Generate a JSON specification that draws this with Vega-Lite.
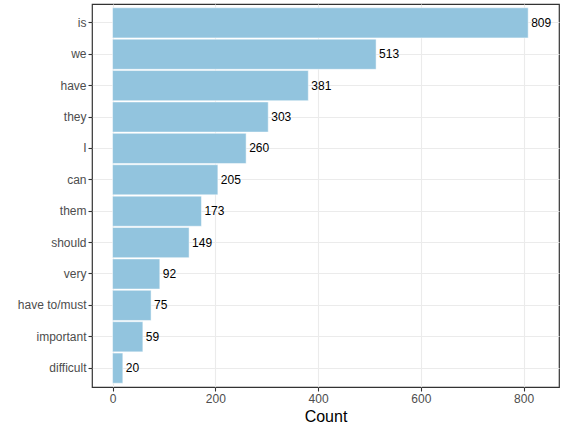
{
  "$schema": "https://vega.github.io/schema/vega-lite/v6.json",
  "width": 467, "height": 383,
  "autosize": {"type": "none"},
  "padding": {"left": 92, "top": 4, "right": 6, "bottom": 43},
  "background": "white",
  "config": {
    "font": "Liberation Sans",
    "view": {"stroke": "#333333", "strokeWidth": 1.2},
    "axis": {
      "domain": false, "grid": true, "gridColor": "#ebebeb", "gridWidth": 1.1,
      "tickColor": "#333333", "tickSize": 4, "tickWidth": 1.1,
      "labelColor": "#4d4d4d", "labelFontSize": 12, "labelPadding": 2,
      "titleColor": "#000000", "titleFontSize": 16, "titleFontWeight": "normal"
    }
  },
  "data": {"values": [
    {"word": "is", "count": 809},
    {"word": "we", "count": 513},
    {"word": "have", "count": 381},
    {"word": "they", "count": 303},
    {"word": "I", "count": 260},
    {"word": "can", "count": 205},
    {"word": "them", "count": 173},
    {"word": "should", "count": 149},
    {"word": "very", "count": 92},
    {"word": "have to/must", "count": 75},
    {"word": "important", "count": 59},
    {"word": "difficult", "count": 20}
  ]},
  "encoding": {
    "y": {
      "field": "word", "type": "nominal", "sort": null, "title": null,
      "scale": {"paddingInner": 0.04, "paddingOuter": 0.12}
    },
    "x": {
      "field": "count", "type": "quantitative", "title": "Count",
      "scale": {"domain": [-40, 869], "nice": false, "zero": false},
      "axis": {"values": [0, 200, 400, 600, 800], "titlePadding": 4}
    }
  },
  "layer": [
    {"mark": {"type": "bar", "color": "#92c4de", "stroke": "white", "strokeWidth": 0.5}},
    {"mark": {"type": "text", "align": "left", "dx": 3, "fontSize": 12, "color": "#000000"},
     "encoding": {"text": {"field": "count", "type": "quantitative"}}}
  ]
}
